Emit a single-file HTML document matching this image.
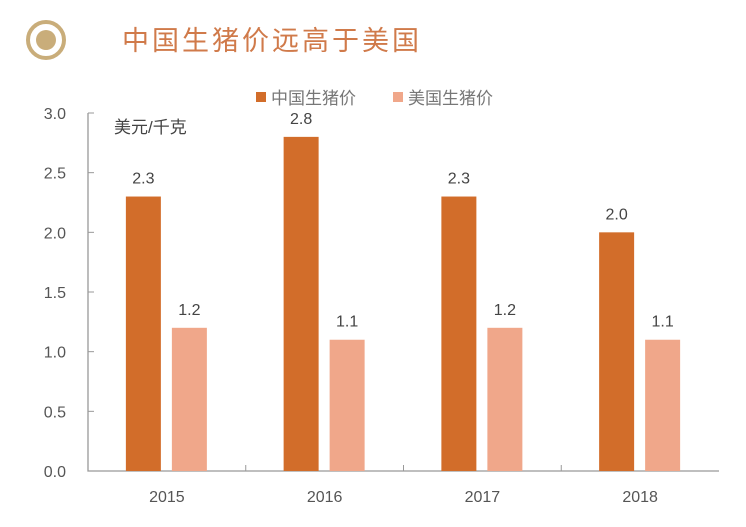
<!DOCTYPE html>
<html><head><meta charset="utf-8"><style>
body{margin:0;background:#fff;}
svg text{font-family:"Liberation Sans","Noto Sans CJK SC",sans-serif;}
</style></head><body>
<svg width="746" height="522" viewBox="0 0 746 522">
<g>
<circle cx="46" cy="40" r="18" fill="none" stroke="#c9ad7a" stroke-width="4"/>
<circle cx="46" cy="40" r="10" fill="#c9ad7a"/>
</g>
<text x="122" y="50" font-size="27" fill="#d07a4a" letter-spacing="3" font-family="'Noto Serif CJK SC',serif">中国生猪价远高于美国</text>
<g>
<rect x="256" y="92" width="10" height="10" fill="#d26d2a"/>
<text x="271" y="104" font-size="17" fill="#777">中国生猪价</text>
<rect x="393" y="92" width="10" height="10" fill="#f0a78a"/>
<text x="408" y="104" font-size="17" fill="#777">美国生猪价</text>
</g>
<text x="114" y="133" font-size="17" fill="#444">美元/千克</text>
<g id="plot"></g>
</svg>
<script>
const categories=["2015","2016","2017","2018"];
const chinaValues=[2.3,2.8,2.3,2.0];
const usValues=[1.2,1.1,1.2,1.1];
const yTicks=[0,0.5,1.0,1.5,2.0,2.5,3.0];
const NS="http://www.w3.org/2000/svg";
const g=document.getElementById('plot');
const x0=88,x1=719,y0=471,y1=113,yMax=3;
const bw=(x1-x0)/categories.length;
const y=v=>y0-(v/yMax)*(y0-y1);
const cx=i=>x0+bw*(i+0.5);
function mk(t,a){const e=document.createElementNS(NS,t);for(const k in a)e.setAttribute(k,a[k]);g.appendChild(e);return e;}
let ax=mk('path',{d:`M${x0},${y1} V${y0} H${x1}`,fill:'none',stroke:'#999','stroke-width':1.3});


yTicks.forEach(v=>{
 let t=mk('line',{x1:x0,x2:x0+6,y1:y(v),y2:y(v),stroke:'#999'});
 
 
 let l=mk('text',{x:x0-22,y:y(v)+6,'font-size':16,fill:'#555','text-anchor':'end'});
 l.textContent=v.toFixed(1);
 
 
});
categories.forEach((c,i)=>{
 if(i>0){let t=mk('line',{x1:x0+bw*i,x2:x0+bw*i,y1:y0,y2:y0-6,stroke:'#999'});
 
 }
 let l=mk('text',{x:cx(i),y:y0+31,'font-size':16,fill:'#555','text-anchor':'middle'});
 l.textContent=c;
 
 
 [[chinaValues[i],-41,'#d26d2a','china'],[usValues[i],5,'#f0a78a','us']].forEach(([v,off,col,n])=>{
  let r=mk('rect',{x:cx(i)+off,y:y(v),width:35,height:y0-y(v),fill:col});
  
  
  let t=mk('text',{x:cx(i)+off+17.5,y:y(v)-13,'font-size':16,fill:'#444','text-anchor':'middle'});
  t.textContent=v.toFixed(1);
  
  
 });
});
</script>
</body></html>
